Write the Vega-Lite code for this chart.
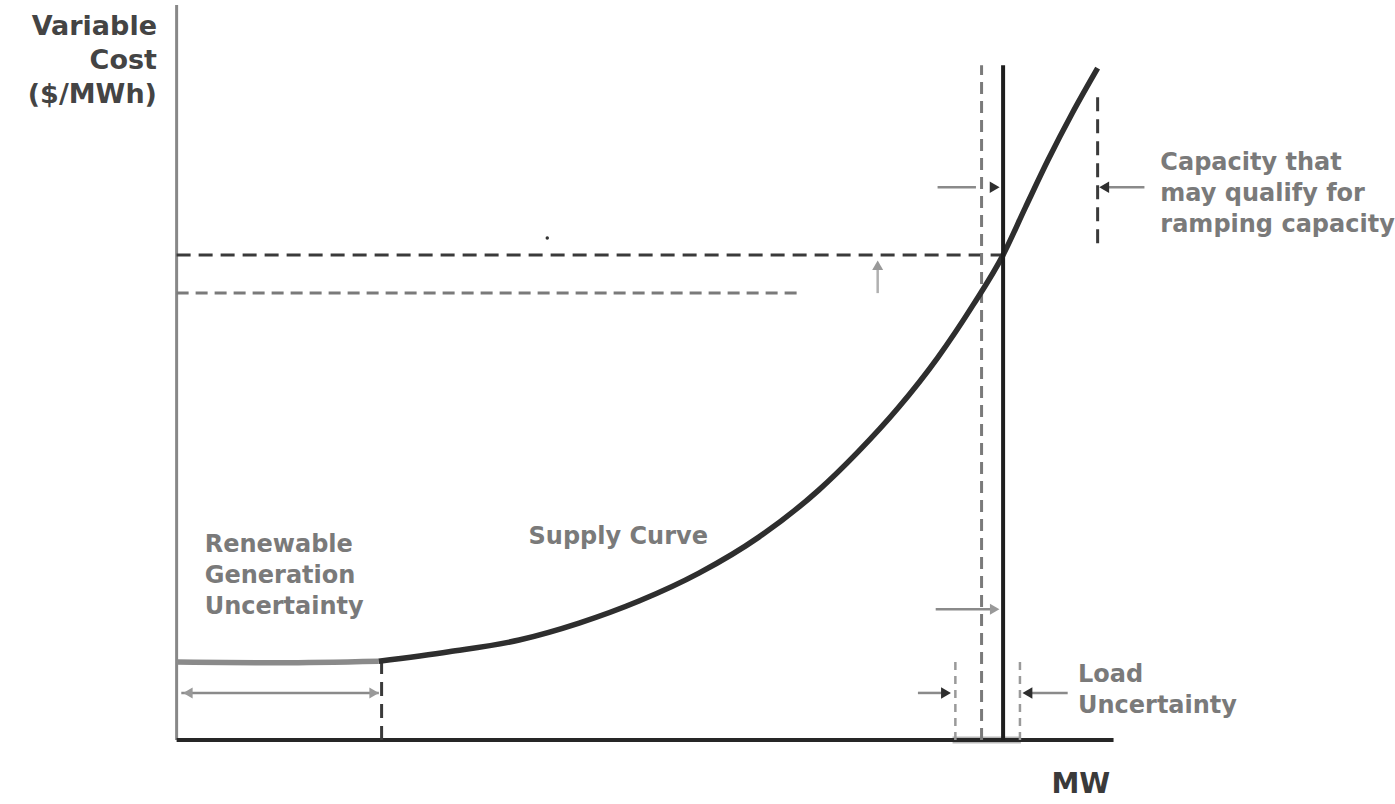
{
  "$schema": "https://vega.github.io/schema/vega-lite/v6.json",
  "width": 1395,
  "height": 804,
  "padding": 0,
  "autosize": {"type": "fit", "contains": "padding"},
  "background": "white",
  "config": {"view": {"stroke": null}},
  "datasets": {
    "curve": [
      {"part": "renewable", "x": 0, "y": 10.6},
      {"part": "renewable", "x": 11.0, "y": 10.5},
      {"part": "renewable", "x": 21.6, "y": 10.7},
      {"part": "supply", "x": 21.6, "y": 10.7},
      {"part": "supply", "x": 29.1, "y": 12.0},
      {"part": "supply", "x": 36.6, "y": 13.6},
      {"part": "supply", "x": 43.0, "y": 15.9},
      {"part": "supply", "x": 49.4, "y": 18.9},
      {"part": "supply", "x": 55.8, "y": 22.7},
      {"part": "supply", "x": 62.2, "y": 27.6},
      {"part": "supply", "x": 68.6, "y": 34.0},
      {"part": "supply", "x": 72.8, "y": 39.2},
      {"part": "supply", "x": 77.1, "y": 45.2},
      {"part": "supply", "x": 81.3, "y": 52.0},
      {"part": "supply", "x": 85.1, "y": 59.2},
      {"part": "supply", "x": 88.3, "y": 66.0},
      {"part": "supply", "x": 90.7, "y": 72.5},
      {"part": "supply", "x": 93.1, "y": 78.9},
      {"part": "supply", "x": 95.7, "y": 85.3},
      {"part": "supply", "x": 98.4, "y": 91.4}
    ],
    "segs": [
      {"name": "y axis", "x": 0, "y": 0, "x2": 0, "y2": 100},
      {"name": "x axis", "x": 0, "y": 0, "x2": 100.1, "y2": 0},
      {"name": "load", "x": 88.3, "y": 0, "x2": 88.3, "y2": 91.8},
      {"name": "forecast load", "x": 86.0, "y": 0, "x2": 86.0, "y2": 91.8},
      {"name": "clearing price", "x": 0, "y": 66.0, "x2": 88.3, "y2": 66.0},
      {"name": "forecast price", "x": 0, "y": 60.8, "x2": 66.4, "y2": 60.8},
      {"name": "ramp limit", "x": 98.4, "y": 67.6, "x2": 98.4, "y2": 87.8},
      {"name": "renewable limit", "x": 21.9, "y": 0, "x2": 21.9, "y2": 10.6},
      {"name": "load low", "x": 83.2, "y": 0, "x2": 83.2, "y2": 11.2},
      {"name": "load high", "x": 90.1, "y": 0, "x2": 90.1, "y2": 11.2},
      {"name": "load band", "x": 82.9, "y": 0, "x2": 90.2, "y2": 0},
      {"name": "ramp arrow", "x": 81.3, "y": 75.2, "x2": 85.4, "y2": 75.2},
      {"name": "ramp arrow", "x": 99.0, "y": 75.2, "x2": 103.4, "y2": 75.2},
      {"name": "supply arrow", "x": 81.1, "y": 17.8, "x2": 87.0, "y2": 17.8},
      {"name": "load arrow", "x": 79.2, "y": 6.4, "x2": 82.2, "y2": 6.4},
      {"name": "load arrow", "x": 90.9, "y": 6.4, "x2": 95.2, "y2": 6.4},
      {"name": "renewable arrow", "x": 0.5, "y": 6.4, "x2": 21.6, "y2": 6.4},
      {"name": "price arrow", "x": 74.9, "y": 60.8, "x2": 74.9, "y2": 64.6}
    ],
    "heads": [
      {"name": "ramp", "x": 87.4, "y": 75.2, "dir": "right"},
      {"name": "ramp", "x": 99.1, "y": 75.2, "dir": "left"},
      {"name": "load", "x": 82.2, "y": 6.4, "dir": "right"},
      {"name": "load", "x": 90.9, "y": 6.4, "dir": "left"},
      {"name": "supply", "x": 87.4, "y": 17.8, "dir": "right"},
      {"name": "renewable", "x": 1.2, "y": 6.4, "dir": "left"},
      {"name": "renewable", "x": 21.1, "y": 6.4, "dir": "right"},
      {"name": "price", "x": 74.9, "y": 64.6, "dir": "up"}
    ],
    "labels": [
      {"name": "y title", "x": -2.1, "y": 97.0, "text": "Variable\nCost\n($/MWh)"},
      {"name": "x title", "x": 96.6, "y": -6.1, "text": "MW"},
      {"name": "note", "x": 37.6, "y": 27.6, "text": "Supply Curve"},
      {"name": "note", "x": 3.0, "y": 26.5, "text": "Renewable\nGeneration\nUncertainty"},
      {"name": "note", "x": 105.1, "y": 78.5, "text": "Capacity that\nmay qualify for\nramping capacity"},
      {"name": "note", "x": 96.3, "y": 8.8, "text": "Load\nUncertainty"}
    ],
    "dots": [
      {"x": 39.6, "y": 68.3}
    ]
  },
  "encoding": {
    "x": {"field": "x", "type": "quantitative", "axis": null, "scale": {"domain": [-18.87, 129.85], "nice": false, "zero": false}},
    "y": {"field": "y", "type": "quantitative", "axis": null, "scale": {"domain": [-8.71, 100.68], "nice": false, "zero": false}}
  },
  "layer": [
    {
      "data": {"name": "segs"},
      "transform": [{"filter": {"field": "name", "equal": "load band"}}],
      "mark": {"type": "rule", "color": "#b8b8b8", "strokeWidth": 7},
      "encoding": {"x2": {"field": "x2"}, "y2": {"field": "y2"}}
    },
    {
      "data": {"name": "segs"},
      "transform": [{"filter": {"field": "name", "equal": "y axis"}}],
      "mark": {"type": "rule", "color": "#888888", "strokeWidth": 3},
      "encoding": {"x2": {"field": "x2"}, "y2": {"field": "y2"}}
    },
    {
      "data": {"name": "segs"},
      "transform": [{"filter": {"field": "name", "equal": "x axis"}}],
      "mark": {"type": "rule", "color": "#262626", "strokeWidth": 4},
      "encoding": {"x2": {"field": "x2"}, "y2": {"field": "y2"}}
    },
    {
      "data": {"name": "segs"},
      "transform": [{"filter": {"field": "name", "oneOf": ["clearing price", "ramp limit", "renewable limit"]}}],
      "mark": {"type": "rule", "color": "#3a3a3a", "strokeWidth": 3, "strokeDash": [14, 8]},
      "encoding": {"x2": {"field": "x2"}, "y2": {"field": "y2"}}
    },
    {
      "data": {"name": "segs"},
      "transform": [{"filter": {"field": "name", "oneOf": ["forecast load", "forecast price"]}}],
      "mark": {"type": "rule", "color": "#7a7a7a", "strokeWidth": 3, "strokeDash": [12, 7]},
      "encoding": {"x2": {"field": "x2"}, "y2": {"field": "y2"}}
    },
    {
      "data": {"name": "segs"},
      "transform": [{"filter": {"field": "name", "oneOf": ["load low", "load high"]}}],
      "mark": {"type": "rule", "color": "#9a9a9a", "strokeWidth": 2.5, "strokeDash": [8, 6]},
      "encoding": {"x2": {"field": "x2"}, "y2": {"field": "y2"}}
    },
    {
      "data": {"name": "curve"},
      "transform": [{"filter": {"field": "part", "equal": "renewable"}}],
      "mark": {"type": "line", "color": "#8a8a8a", "strokeWidth": 5.5, "interpolate": "monotone"},
      "encoding": {}
    },
    {
      "data": {"name": "curve"},
      "transform": [{"filter": {"field": "part", "equal": "supply"}}],
      "mark": {"type": "line", "color": "#2e2e2e", "strokeWidth": 5.5, "interpolate": "monotone"},
      "encoding": {}
    },
    {
      "data": {"name": "segs"},
      "transform": [{"filter": {"field": "name", "equal": "load"}}],
      "mark": {"type": "rule", "color": "#1e1e1e", "strokeWidth": 4},
      "encoding": {"x2": {"field": "x2"}, "y2": {"field": "y2"}}
    },
    {
      "data": {"name": "segs"},
      "transform": [{"filter": {"field": "name", "oneOf": ["ramp arrow", "supply arrow", "load arrow", "renewable arrow"]}}],
      "mark": {"type": "rule", "color": "#8a8a8a", "strokeWidth": 2.5},
      "encoding": {"x2": {"field": "x2"}, "y2": {"field": "y2"}}
    },
    {
      "data": {"name": "segs"},
      "transform": [{"filter": {"field": "name", "equal": "price arrow"}}],
      "mark": {"type": "rule", "color": "#b0b0b0", "strokeWidth": 2.5},
      "encoding": {"x2": {"field": "x2"}, "y2": {"field": "y2"}}
    },
    {
      "data": {"name": "heads"},
      "transform": [{"filter": {"field": "name", "oneOf": ["ramp", "load"]}}],
      "mark": {"type": "point", "filled": true, "color": "#2e2e2e", "size": 130, "opacity": 1},
      "encoding": {"shape": {"field": "dir", "type": "nominal", "legend": null, "scale": {"domain": ["right", "left", "up"], "range": ["triangle-right", "triangle-left", "triangle-up"]}}}
    },
    {
      "data": {"name": "heads"},
      "transform": [{"filter": {"field": "name", "oneOf": ["supply", "renewable", "price"]}}],
      "mark": {"type": "point", "filled": true, "color": "#999999", "size": 120, "opacity": 1},
      "encoding": {"shape": {"field": "dir", "type": "nominal", "legend": null, "scale": {"domain": ["right", "left", "up"], "range": ["triangle-right", "triangle-left", "triangle-up"]}}}
    },
    {
      "data": {"name": "dots"},
      "mark": {"type": "point", "filled": true, "color": "#333333", "size": 12, "opacity": 1},
      "encoding": {}
    },
    {
      "data": {"name": "labels"},
      "transform": [{"filter": {"field": "name", "equal": "y title"}}],
      "mark": {"type": "text", "align": "right", "baseline": "middle", "font": "DejaVu Sans", "fontWeight": "bold", "fontSize": 27, "lineHeight": 34, "lineBreak": "\n", "color": "#444444"},
      "encoding": {"text": {"field": "text"}}
    },
    {
      "data": {"name": "labels"},
      "transform": [{"filter": {"field": "name", "equal": "x title"}}],
      "mark": {"type": "text", "align": "center", "baseline": "middle", "font": "DejaVu Sans", "fontWeight": "bold", "fontSize": 28, "color": "#3a3a3a"},
      "encoding": {"text": {"field": "text"}}
    },
    {
      "data": {"name": "labels"},
      "transform": [{"filter": {"field": "name", "equal": "note"}}],
      "mark": {"type": "text", "align": "left", "baseline": "middle", "font": "DejaVu Sans", "fontWeight": "bold", "fontSize": 24, "lineHeight": 31, "lineBreak": "\n", "color": "#7a7a7a"},
      "encoding": {"text": {"field": "text"}}
    }
  ]
}
